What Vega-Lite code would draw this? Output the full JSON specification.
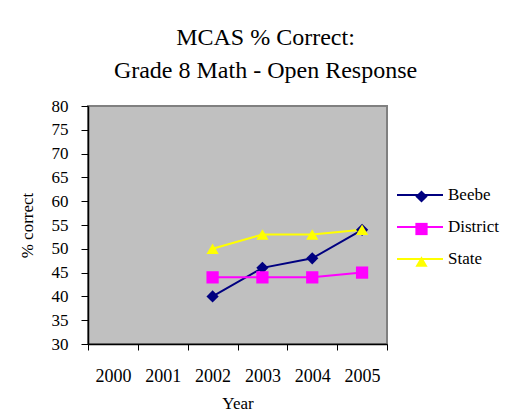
{
  "$schema": "https://vega.github.io/schema/vega-lite/v6.json",
  "autosize": {"type": "none"},
  "width": 299,
  "height": 238,
  "padding": {"left": 88, "top": 106, "right": 120, "bottom": 76},
  "background": "white",
  "config": {
    "font": "Liberation Serif",
    "view": {"fill": "#C0C0C0", "stroke": "#808080", "strokeWidth": 2},
    "axis": {
      "labelFont": "Liberation Serif",
      "titleFont": "Liberation Serif",
      "labelColor": "black",
      "titleColor": "black",
      "domainColor": "black",
      "domainWidth": 1.5,
      "tickColor": "black",
      "grid": false,
      "titleFontWeight": "normal",
      "labelFontSize": 17,
      "titleFontSize": 17
    }
  },
  "title": {
    "text": ["MCAS % Correct:", "Grade 8 Math - Open Response"],
    "font": "Liberation Serif",
    "fontSize": 24,
    "fontWeight": "normal",
    "color": "black",
    "anchor": "middle",
    "dx": 28,
    "lineHeight": 33,
    "offset": 14
  },
  "data": {
    "values": [
      {"year": "2002", "series": "Beebe", "value": 40},
      {"year": "2003", "series": "Beebe", "value": 46},
      {"year": "2004", "series": "Beebe", "value": 48},
      {"year": "2005", "series": "Beebe", "value": 54},
      {"year": "2002", "series": "District", "value": 44},
      {"year": "2003", "series": "District", "value": 44},
      {"year": "2004", "series": "District", "value": 44},
      {"year": "2005", "series": "District", "value": 45},
      {"year": "2002", "series": "State", "value": 50},
      {"year": "2003", "series": "State", "value": 53},
      {"year": "2004", "series": "State", "value": 53},
      {"year": "2005", "series": "State", "value": 54}
    ]
  },
  "encoding": {
    "x": {
      "field": "year",
      "type": "ordinal",
      "scale": {"type": "band", "domain": ["2000", "2001", "2002", "2003", "2004", "2005"], "paddingInner": 0, "paddingOuter": 0},
      "axis": {"title": "Year", "labelAngle": 0, "tickBand": "extent", "tickSize": 6, "labelPadding": 17, "labelFontSize": 18, "titlePadding": 10}
    },
    "y": {
      "field": "value",
      "type": "quantitative",
      "scale": {"domain": [30, 80], "nice": false, "zero": false},
      "axis": {"title": "% correct", "values": [30, 35, 40, 45, 50, 55, 60, 65, 70, 75, 80], "tickSize": 7, "labelPadding": 13, "titlePadding": 15}
    }
  },
  "layer": [
    {
      "mark": {"type": "line", "strokeWidth": 2},
      "encoding": {
        "stroke": {
          "field": "series",
          "type": "nominal",
          "scale": {"range": ["#000080", "#FF00FF", "#FFFF00"]},
          "legend": {
            "title": null,
            "orient": "none",
            "legendX": 308,
            "legendY": 65,
            "padding": 0,
            "symbolType": "stroke",
            "symbolSize": 2116,
            "symbolStrokeWidth": 2,
            "labelFont": "Liberation Serif",
            "labelFontSize": 17,
            "labelColor": "black",
            "labelOffset": 4,
            "rowPadding": -13
          }
        }
      }
    },
    {
      "mark": {"type": "point", "filled": true, "opacity": 1, "size": 150},
      "encoding": {
        "fill": {
          "field": "series",
          "type": "nominal",
          "scale": {"domain": ["Beebe", "District", "State"], "range": ["#000080", "#FF00FF", "#FFFF00"]},
          "legend": {
            "title": null,
            "orient": "none",
            "legendX": 325,
            "legendY": 82,
            "padding": 0,
            "symbolSize": 150,
            "symbolStrokeWidth": 0,
            "symbolOpacity": 1,
            "labelExpr": "''",
            "labelFontSize": 17,
            "labelOffset": 0,
            "rowPadding": 14.5
          }
        },
        "shape": {
          "field": "series",
          "type": "nominal",
          "scale": {"domain": ["Beebe", "District", "State"], "range": ["diamond", "square", "triangle-up"]}
        }
      }
    }
  ]
}
